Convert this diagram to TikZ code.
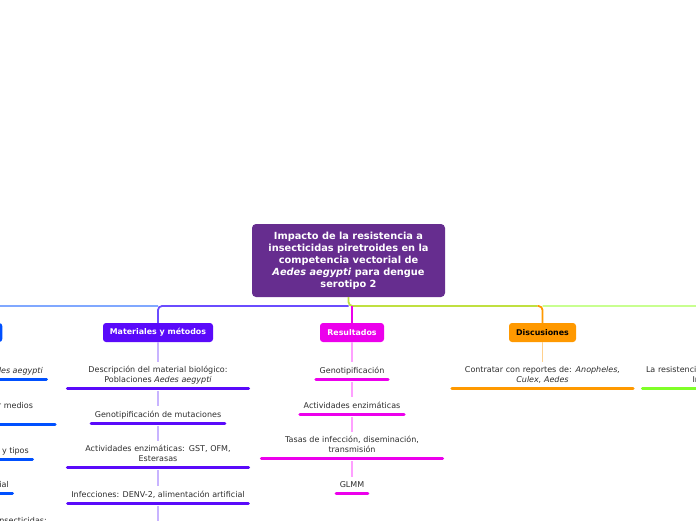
\documentclass[tikz,border=0pt]{standalone}
\usepackage{fontspec}
\setmainfont{DejaVu Sans}
\usetikzlibrary{calc}
\definecolor{rootc}{RGB}{102,45,143}
\definecolor{matc}{RGB}{90,10,250}
\definecolor{resc}{RGB}{236,0,236}
\definecolor{disc}{RGB}{255,153,0}
\definecolor{intc}{RGB}{0,80,255}
\definecolor{conc}{RGB}{128,255,40}
\definecolor{lblue}{RGB}{128,168,255}
\definecolor{lpurple}{RGB}{106,76,255}
\definecolor{ygreen}{RGB}{192,224,64}
\definecolor{lgreen}{RGB}{200,255,144}
\definecolor{matl}{RGB}{200,180,255}
\definecolor{resl}{RGB}{255,160,255}
\definecolor{disl}{RGB}{255,208,140}
\definecolor{txt}{RGB}{45,45,45}
\begin{document}
\begin{tikzpicture}[x=1pt,y=-1pt,
  rootbox/.style={fill=rootc, rounded corners=4pt, minimum width=193pt, minimum height=73pt, inner sep=0pt, text=white, align=center, font=\fontsize{9.8}{12}\selectfont\bfseries},
  branch/.style={rounded corners=3pt, minimum height=19pt, inner xsep=0pt, inner ysep=0pt, font=\fontsize{7.9}{9.5}\selectfont\bfseries, text=white},
  item/.style={font=\fontsize{8}{9.5}\selectfont, text=txt, align=center, inner xsep=3.5pt, inner ysep=3.5pt, text depth=2pt, anchor=south},
  wide/.style={item, text width=174pt, text depth=11.5pt},
  ul/.style={line width=3pt, line cap=round},
  trunk/.style={line width=1.8pt},
  twig/.style={line width=1.2pt, shorten <=3pt, shorten >=1pt},
]
\useasboundingbox (0,0) rectangle (696,520);
\clip (0,0) rectangle (696,520);

% root and branches
\node[rootbox] (root) at (348.5,260.5) {Impacto de la resistencia a\\insecticidas piretroides en la\\competencia vectorial de\\\textit{Aedes aegypti} para dengue\\serotipo 2};
\node[branch, fill=matc, minimum width=110pt] (mat) at (158,332.5) {Materiales y métodos};
\node[branch, fill=resc, minimum width=64pt] (res) at (352,332.5) {Resultados};
\node[branch, fill=disc, text=black, minimum width=67pt] (dis) at (542.5,332.5) {Discusiones};
\node[branch, fill=intc, minimum width=60pt, anchor=east] (intro) at (2.5,332.5) {};
\node[branch, fill=conc, minimum width=60pt] (concl) at (733,332.5) {};

% trunk connectors
\coordinate (hy) at (0,306);
\coordinate (lx) at (-20,0);
\draw[trunk, lblue, rounded corners=4pt] (mat.north |- hy) -| (intro.north);
\draw[trunk, lgreen, rounded corners=4pt] (dis.north |- hy) -| (concl.north);
\draw[trunk, lpurple, rounded corners=4pt] (root.south |- hy) -| (mat.north);
\coordinate (dcorner) at ($(dis.north |- hy)+(-5,0)$);
\draw[trunk, ygreen, rounded corners=4pt] (root.south) |- (dcorner);
\draw[trunk, disc, rounded corners=4pt] (dcorner) -| (dis.north);
\draw[trunk, resc] (res.north |- hy) -- (res.north);

% Materiales y metodos
\node[wide] (m1) at (158,388) {Descripción del material biológico:\\Poblaciones \textit{Aedes aegypti}};
\node[item] (m2) at (158,423) {Genotipificación de mutaciones};
\node[wide] (m3) at (158,467) {Actividades enzimáticas: GST, OFM,\\Esterasas};
\node[item] (m4) at (158,503) {Infecciones: DENV-2, alimentación artificial};
\coordinate (m5) at (158,530);
\foreach \n in {m1,m2,m3,m4} {\draw[ul, matc] (\n.south west) -- (\n.south east);}
\draw[twig, matl, shorten <=0pt] (mat.south) -- (m1.north);
\draw[twig, matl] (m1.south) -- (m2.north);
\draw[twig, matl] (m2.south) -- (m3.north);
\draw[twig, matl] (m3.south) -- (m4.north);
\draw[twig, matl] (m4.south) -- (m5);

% Resultados
\node[item] (r1) at (352,379) {Genotipificación};
\node[item] (r2) at (352,414) {Actividades enzimáticas};
\node[wide] (r3) at (352,458) {Tasas de infección, diseminación,\\transmisión};
\node[item] (r4) at (352,493) {GLMM};
\foreach \n in {r1,r2,r3,r4} {\draw[ul, resc] (\n.south west) -- (\n.south east);}
\draw[twig, resl, shorten <=0pt] (res.south) -- (r1.north);
\draw[twig, resl] (r1.south) -- (r2.north);
\draw[twig, resl] (r2.south) -- (r3.north);
\draw[twig, resl] (r3.south) -- (r4.north);

% Discusiones
\node[wide] (d1) at (542.5,388) {Contratar con reportes de: \textit{Anopheles,}\\\textit{Culex, Aedes}};
\draw[ul, disc] (d1.south west) -- (d1.south east);
\draw[twig, disl, shorten <=0pt] (dis.south) -- (d1.north);

% right column (cut off)
\node[wide] (c1) at (733,388) {\makebox[174pt][l]{La resistencia}\\\makebox[81pt][l]{In}};
\draw[ul, conc] (c1.south west) -- (c1.south east);

% left column (cut off)
\node[item, anchor=south east] (l1) at (46.5,379) {\textit{des aegypti}};
\node[wide] (l2) at (-35.5,424) {\makebox[137pt][r]{r medios}\\\mbox{}};
\node[item, anchor=south east] (l3) at (32.5,459) {y tipos};
\node[item, anchor=south east] (l4) at (12.5,493) {ial};
\node[item, anchor=south east] (l5) at (50.5,529) {nsecticidas:};
\draw[ul, intc] (l1.south east) -- (l1.south east -| lx);
\draw[ul, intc] (l2.south east) -- (l2.south west);
\draw[ul, intc] (l3.south east) -- (l3.south east -| lx);
\draw[ul, intc] (l4.south east) -- (l4.south east -| lx);
\end{tikzpicture}
\end{document}
